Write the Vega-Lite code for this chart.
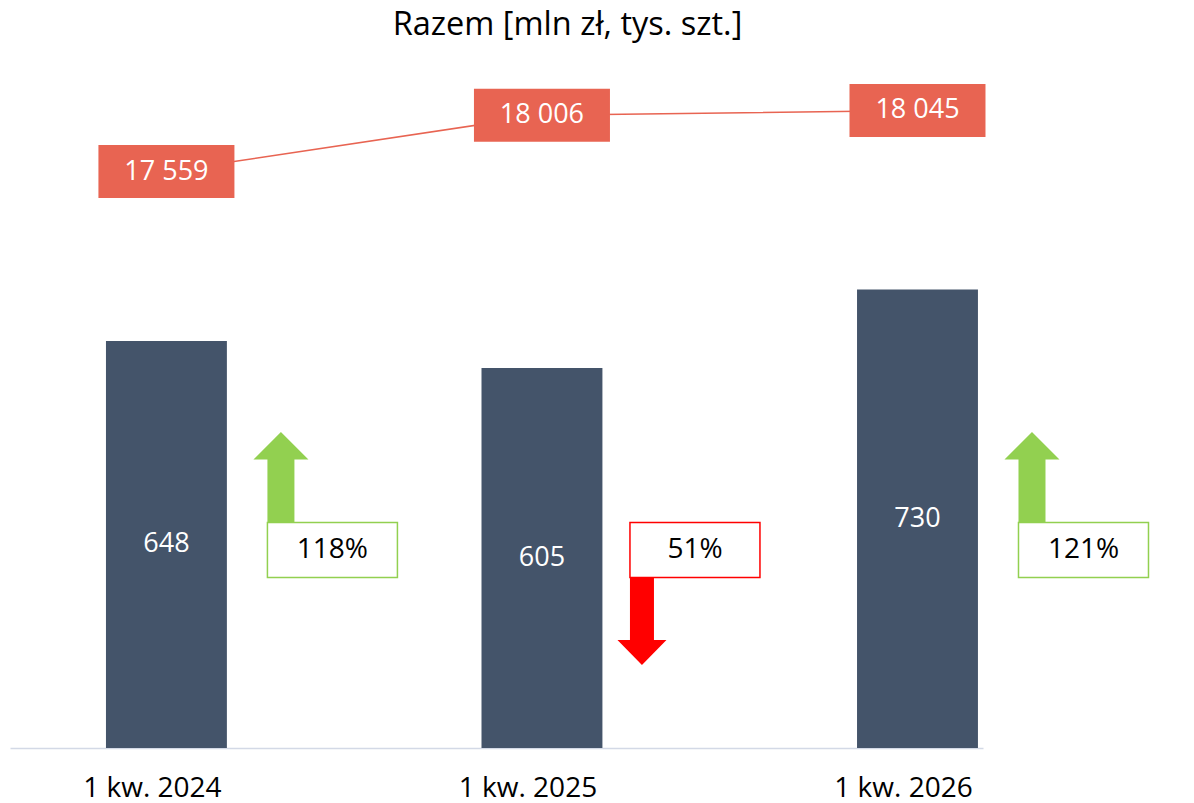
{
  "$schema": "https://vega.github.io/schema/vega-lite/v6.json",
  "autosize": "none",
  "width": 973,
  "height": 691,
  "padding": {"left": 10, "top": 57, "right": 211, "bottom": 55},
  "background": "white",
  "title": {
    "text": "Razem [mln zł, tys. szt.]",
    "anchor": "middle",
    "frame": "group",
    "dx": 71,
    "dy": 30,
    "offset": 20,
    "baseline": "alphabetic",
    "font": "Open Sans",
    "fontSize": 32.5,
    "fontWeight": "normal",
    "color": "#000000"
  },
  "config": {
    "view": {"stroke": null},
    "locale": {"number": {"decimal": ",", "thousands": " ", "grouping": [3], "currency": ["", " zł"]}}
  },
  "data": {
    "values": [
      {"okres": "1 kw. 2024", "wartosc": 648, "liczba": 17559, "zmiana": 1.18},
      {"okres": "1 kw. 2025", "wartosc": 605, "liczba": 18006, "zmiana": 0.51},
      {"okres": "1 kw. 2026", "wartosc": 730, "liczba": 18045, "zmiana": 1.21}
    ]
  },
  "encoding": {
    "x": {
      "field": "okres",
      "type": "nominal",
      "sort": null,
      "scale": {"paddingInner": 0.678, "paddingOuter": 0.1345, "align": 0.95, "round": false},
      "axis": {
        "title": null,
        "ticks": false,
        "tickSize": 0,
        "labelAngle": 0,
        "labelFont": "Open Sans",
        "labelFontSize": 28,
        "labelColor": "#000000",
        "labelBaseline": "middle",
        "labelPadding": 40,
        "labelOffset": -14,
        "domainColor": "#D3D9E6",
        "domainWidth": 1.5,
        "grid": false
      }
    }
  },
  "layer": [
    {
      "layer": [
        {
          "mark": {"type": "bar", "color": "#44546A"},
          "encoding": {
            "y": {"field": "wartosc", "type": "quantitative", "scale": {"domain": [0, 1100], "nice": false}, "axis": null}
          }
        },
        {
          "mark": {"type": "point", "size": 40000, "filled": true, "opacity": 1, "strokeWidth": 0},
          "encoding": {
            "y": {"datum": 315},
            "shape": {
              "condition": {"test": "datum.zmiana < 1", "value": "M0.88,0.27L0.88,0.9L0.755,0.9L1.0,1.15L1.245,0.9L1.12,0.9L1.12,0.27Z"},
              "value": "M1.01,-0.27L1.01,-0.905L0.87,-0.905L1.145,-1.18L1.42,-0.905L1.28,-0.905L1.28,-0.27Z"
            },
            "fill": {"condition": {"test": "datum.zmiana < 1", "value": "#FF0000"}, "value": "#92D050"}
          }
        },
        {
          "mark": {"type": "point", "size": 40000, "filled": true, "fill": "#FFFFFF", "fillOpacity": 1, "opacity": 1, "strokeWidth": 1.5},
          "encoding": {
            "y": {"datum": 315},
            "shape": {
              "condition": {"test": "datum.zmiana < 1", "value": "M0.88,-0.275L2.18,-0.275L2.18,0.275L0.88,0.275Z"},
              "value": "M1.01,-0.275L2.31,-0.275L2.31,0.275L1.01,0.275Z"
            },
            "stroke": {"condition": {"test": "datum.zmiana < 1", "value": "#FF0000"}, "value": "#92D050"}
          }
        },
        {
          "transform": [{"filter": "datum.zmiana >= 1"}],
          "mark": {"type": "text", "dx": 166, "font": "Open Sans", "fontSize": 28, "color": "#000000", "baseline": "middle", "align": "center"},
          "encoding": {
            "y": {"datum": 315},
            "text": {"field": "zmiana", "type": "quantitative", "format": ".0%"}
          }
        },
        {
          "transform": [{"filter": "datum.zmiana < 1"}],
          "mark": {"type": "text", "dx": 153, "font": "Open Sans", "fontSize": 28, "color": "#000000", "baseline": "middle", "align": "center"},
          "encoding": {
            "y": {"datum": 315},
            "text": {"field": "zmiana", "type": "quantitative", "format": ".0%"}
          }
        }
      ]
    },
    {
      "mark": {"type": "text", "font": "Open Sans", "fontSize": 27, "color": "#FFFFFF", "baseline": "middle", "align": "center"},
      "encoding": {
        "y": {"field": "wartosc", "type": "quantitative", "scale": {"domain": [0, 2200], "nice": false}, "axis": null},
        "text": {"field": "wartosc", "type": "quantitative", "format": "d"}
      }
    },
    {
      "layer": [
        {
          "mark": {"type": "line", "color": "#E86452", "strokeWidth": 1.5},
          "encoding": {
            "y": {"field": "liczba", "type": "quantitative", "scale": {"domain": [12975, 18470], "nice": false, "zero": false}, "axis": null}
          }
        },
        {
          "mark": {"type": "point", "size": 40000, "shape": "M-0.68,-0.265L0.68,-0.265L0.68,0.265L-0.68,0.265Z", "filled": true, "fill": "#E86452", "opacity": 1, "strokeWidth": 0},
          "encoding": {
            "y": {"field": "liczba", "type": "quantitative"}
          }
        },
        {
          "mark": {"type": "text", "font": "Open Sans", "fontSize": 27, "color": "#FFFFFF", "baseline": "middle", "align": "center"},
          "encoding": {
            "y": {"field": "liczba", "type": "quantitative"},
            "text": {"field": "liczba", "type": "quantitative", "format": ",d"}
          }
        }
      ]
    }
  ],
  "resolve": {"scale": {"y": "independent"}}
}
